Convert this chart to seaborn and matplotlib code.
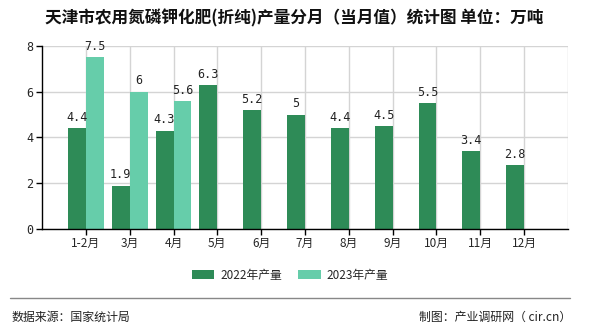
import matplotlib
matplotlib.use("Agg")
import matplotlib.pyplot as plt
import seaborn as sns
import pandas as pd
import numpy as np
from matplotlib.patches import Patch
from matplotlib.lines import Line2D

months = ["1-2月", "3月", "4月", "5月", "6月", "7月", "8月", "9月", "10月", "11月", "12月"]
v2022 = [4.4, 1.9, 4.3, 6.3, 5.2, 5, 4.4, 4.5, 5.5, 3.4, 2.8]
v2023 = [7.5, 6, 5.6, None, None, None, None, None, None, None, None]
series = ["2022年产量", "2023年产量"]
colors = ["#2e8b57", "#66cdaa"]
title = "天津市农用氮磷钾化肥(折纯)产量分月（当月值）统计图 单位：万吨"
yticks = [0, 2, 4, 6, 8]

rows = []
for m, a, b in zip(months, v2022, v2023):
    rows.append({"month": m, "value": a, "series": series[0]})
    rows.append({"month": m, "value": (np.nan if b is None else b), "series": series[1]})
df = pd.DataFrame(rows)

sns.set_theme(style="white")
plt.rcParams['font.family'] = ['Noto Sans CJK SC', 'DejaVu Sans']

fig = plt.figure(figsize=(5.9, 3.3), dpi=100)
ax = fig.add_axes([0.0712, 0.306, 0.8915, 0.555])

sns.barplot(data=df, x="month", y="value", hue="series", order=months,
            hue_order=series, palette=colors, width=0.82, saturation=1,
            legend=False, ax=ax, errorbar=None, linewidth=0)

for cont in ax.containers:
    ax.bar_label(cont, labels=[("" if np.isnan(b.get_height()) else f"{b.get_height():g}") for b in cont],
                 padding=3, fontsize=8.5, family=['DejaVu Sans Mono'], color="#222222")

ax.set_xlim(-1.0, 11.0)
ax.set_ylim(0, 8)
ax.set_yticks(yticks)
ax.set_yticklabels([str(t) for t in yticks], family=['DejaVu Sans Mono'], fontsize=8.5)
ax.set_xticks(range(len(months)))
ax.set_xticklabels(months, fontsize=8.5)
ax.set_xlabel("")
ax.set_ylabel("")
ax.grid(True, color="#d4d4d4", linewidth=1)
ax.axvline(11.0, color="#d4d4d4", linewidth=1, zorder=0)
ax.set_axisbelow(True)
for s in ["top", "right"]:
    ax.spines[s].set_visible(False)
ax.spines["left"].set_color("black")
ax.spines["bottom"].set_color("black")
ax.spines["left"].set_linewidth(1)
ax.spines["bottom"].set_linewidth(1)
ax.tick_params(axis="x", bottom=True, length=4, width=1, color="black", pad=2)
ax.tick_params(axis="y", left=True, length=4, width=1, color="black", pad=2)

fig.text(294/590, 1 - 18/330, title, ha="center", va="center", fontsize=12, fontweight="bold", color="#111111")

handles = [Patch(facecolor=c, edgecolor="none") for c in colors]
fig.legend(handles, series, loc="center", bbox_to_anchor=(290/590, 0.165), ncol=2, frameon=False,
           fontsize=8.5, handlelength=1.9, handleheight=0.8, columnspacing=1.4, handletextpad=0.5)

fig.add_artist(Line2D([10/590, 570/590], [1 - 298/330, 1 - 298/330], color="#888888", linewidth=1))
fig.text(12/590, 1 - 317/330, "数据来源：国家统计局", ha="left", va="center", fontsize=8.6, color="#222222")
fig.text(571/590, 1 - 317/330, "制图：产业调研网（ cir.cn）", ha="right", va="center", fontsize=8.6, color="#222222")

fig.savefig("out.png", dpi=100)
